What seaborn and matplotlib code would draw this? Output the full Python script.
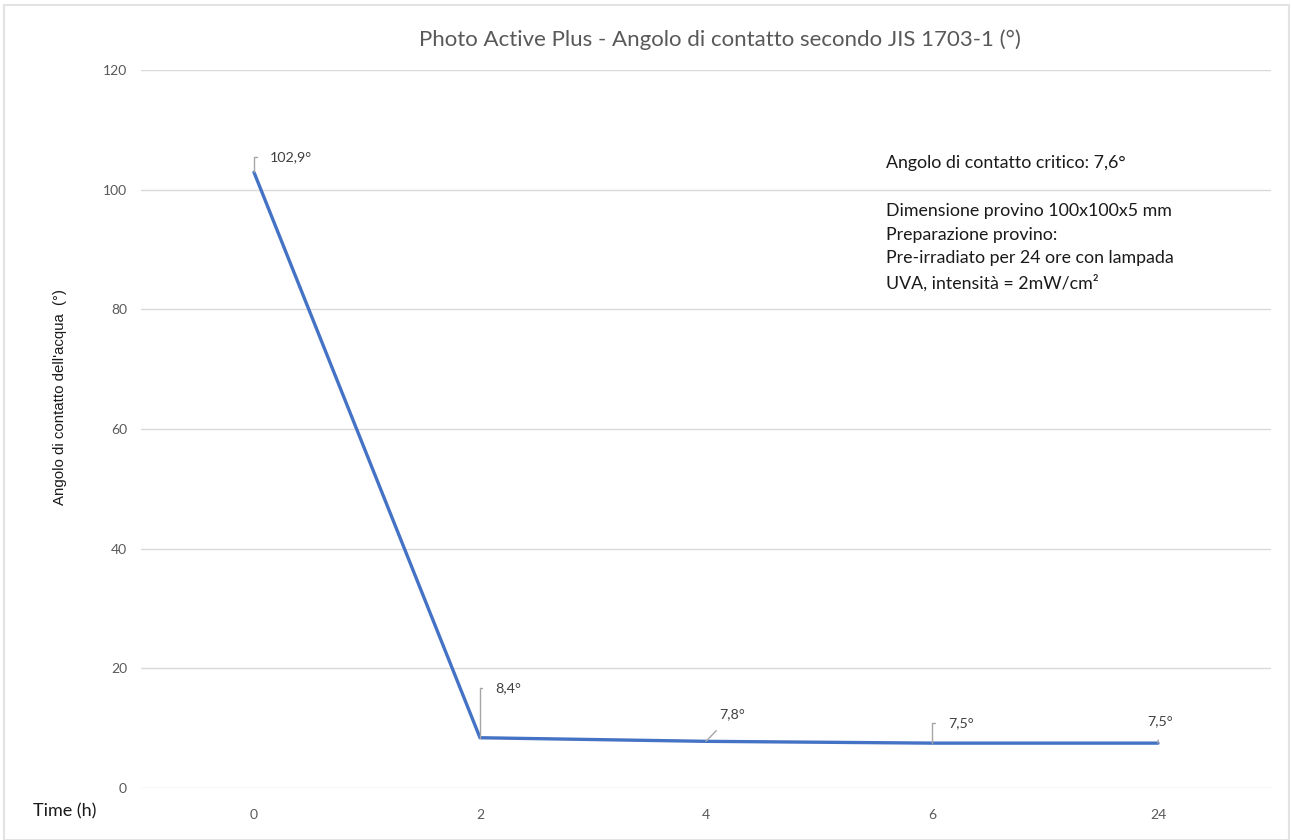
import matplotlib
matplotlib.use("Agg")
import matplotlib.pyplot as plt
import seaborn as sns
import pandas as pd
from matplotlib.patches import Rectangle

# Dati
tempi = ["0", "2", "4", "6", "24"]
angoli = [102.9, 8.4, 7.8, 7.5, 7.5]
etichette = ["102,9°", "8,4°", "7,8°", "7,5°", "7,5°"]
y_ticks = [0, 20, 40, 60, 80, 100, 120]

titolo = "Photo Active Plus - Angolo di contatto secondo JIS 1703-1 (°)"
nota_critico = "Angolo di contatto critico: 7,6°"
nota_provino = ("Dimensione provino 100x100x5 mm\n"
                "Preparazione provino:\n"
                "Pre-irradiato per 24 ore con lampada\n"
                "UVA, intensità = 2mW/cm²")

df = pd.DataFrame({"tempo": tempi, "angolo": angoli})

sns.set_theme(style="white")
plt.rcParams["font.family"] = ["Lato", "DejaVu Sans"]

W, H = 1291, 840
fig = plt.figure(figsize=(W / 100, H / 100), dpi=100)
ax = fig.add_axes([141 / W, 1 - 788 / H, 1130 / W, 718 / H])

sns.lineplot(data=df, x="tempo", y="angolo", sort=False, color="#4472C4",
             linewidth=2.4, ax=ax)

ax.set_xlim(-0.5, 4.5)
ax.set_ylim(0, 120)
ax.set_yticks(y_ticks)
ax.yaxis.grid(True, color="#D9D9D9", linewidth=1)
ax.xaxis.grid(False)
ax.set_axisbelow(True)
for s in ax.spines.values():
    s.set_visible(False)
ax.tick_params(axis="both", length=0, labelsize=10, labelcolor="#595959")
ax.tick_params(axis="y", pad=10)
ax.tick_params(axis="x", pad=15)
ax.set_xlabel("")
ax.set_ylabel("")

# Etichette dei punti con linee guida
offsets = [(16, 15), (15, 50), (26, 27), (16, 20), (2, 22)]
stili = ["angle,angleA=0,angleB=90,rad=0", "angle,angleA=0,angleB=90,rad=0",
         "arc3", "angle,angleA=0,angleB=90,rad=0", "arc3"]
allinea = ["left", "left", "center", "left", "center"]
for i, (t, v, lab) in enumerate(zip(tempi, angoli, etichette)):
    ax.annotate(lab, xy=(i, v), xytext=offsets[i], textcoords="offset pixels",
                ha=allinea[i], va="center", fontsize=10.3, color="#404040",
                arrowprops=dict(arrowstyle="-", color="#A6A6A6", lw=1,
                                connectionstyle=stili[i],
                                shrinkA=7, shrinkB=0))

# Testi
fig.text(720 / W, 1 - 40 / H, titolo, ha="center", va="center",
         fontsize=16, color="#595959")
fig.text(60 / W, 1 - 397 / H, "Angolo di contatto dell'acqua  (°)",
         rotation=90, ha="center", va="center", fontsize=10.8,
         family=["Liberation Sans", "DejaVu Sans"], color="#1a1a1a")
fig.text(33 / W, 1 - 811 / H, "Time (h)", ha="left", va="center",
         fontsize=13, color="#1a1a1a")
fig.text(886 / W, 1 - 163 / H, nota_critico, ha="left", va="center",
         fontsize=12.8, color="#1a1a1a")
fig.text(886 / W, 1 - 203 / H, nota_provino, ha="left", va="top",
         fontsize=12.8, color="#1a1a1a", linespacing=1.58)

# Bordo del grafico
fig.patches.append(Rectangle((4 / W, 0), 1285 / W, 1 - 5 / H,
                             transform=fig.transFigure, fill=False,
                             edgecolor="#E3E3E3", linewidth=1.5))

fig.savefig("out.png", dpi=100)
